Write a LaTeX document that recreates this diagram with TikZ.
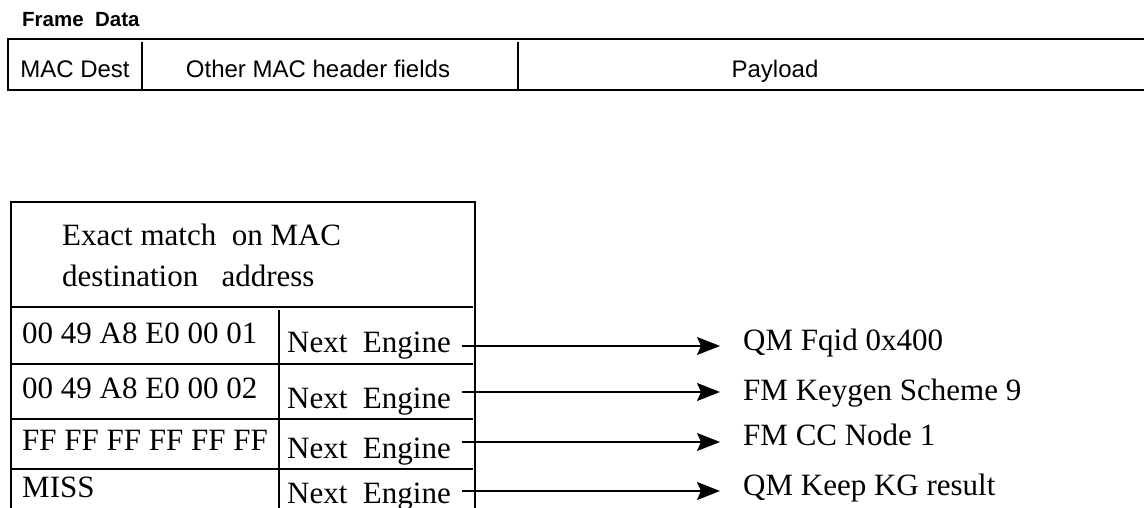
\documentclass[tikz,border=0pt]{standalone}
\usepackage{fontspec}
\setmainfont{Liberation Serif}
\newfontfamily\arialfont{Liberation Sans}
\usetikzlibrary{arrows.meta}

\begin{document}
\begin{tikzpicture}[x=1pt, y=-1pt, line cap=rect, line join=miter,
    box/.style={line width=2pt},
    sanslabel/.style={font=\arialfont\fontsize{24}{28}\selectfont, inner sep=0pt, anchor=base},
    serif/.style={font=\fontsize{31}{41}\selectfont, inner sep=0pt, anchor=base west},
    flow/.style={line width=1.6pt, line cap=butt, -{Stealth[length=23pt, width=18pt, inset=4pt]}, shorten >=23pt}]
  \useasboundingbox (0,0) rectangle (1144,508);

  % The frame as it arrives: one long strip of fields running off the right edge.
  \node[anchor=base west, inner sep=0pt, font=\arialfont\bfseries\fontsize{20.5}{24}\selectfont]
    (title) at (22,27) {Frame\ \ Data};
  \draw[box] (1144,39) -- (8,39) -- (8,90) -- (1144,90);
  \draw[box] (142,43) -- (142,90);
  \draw[box] (518,43) -- (518,90);
  \node[sanslabel] (dest) at (75,78) {MAC Dest};
  \node[sanslabel] (other) at (318,78) {Other MAC header fields};
  \node[sanslabel] (payload) at (775,78) {Payload};

  % The lookup table, cut off at the bottom of the page.
  \draw[box] (11,508) -- (11,202) -- (475,202) -- (475,508);
  \draw[box] (11,307) -- (472,307);
  \draw[box] (11,364) -- (472,364);
  \draw[box] (11,419) -- (472,419);
  \draw[box] (11,469) -- (472,469);
  \draw[box] (279,311) -- (279,508);
  \node[serif, anchor=north west, align=left] (match) at (62,224)
    {Exact match\ \ on MAC\\destination\ \ \ address};

  % Keys on the left, the engine column beside them.
  \node[serif] (key1) at (22,343) {00 49 A8 E0 00 01};
  \node[serif] (key2) at (22,398) {00 49 A8 E0 00 02};
  \node[serif] (key3) at (22,450) {FF FF FF FF FF FF};
  \node[serif] (key4) at (22,497) {MISS};
  \node[serif] (next1) at (287,352) {Next\ \ Engine};
  \node[serif] (next2) at (287,408) {Next\ \ Engine};
  \node[serif] (next3) at (287,458) {Next\ \ Engine};
  \node[serif] (next4) at (287,503) {Next\ \ Engine};

  % Where each hit is sent.
  \node[serif] (qm1) at (743,350) {QM Fqid 0x400};
  \node[serif] (fm2) at (743,400) {FM Keygen Scheme 9};
  \node[serif] (fm3) at (743,445) {FM CC Node 1};
  \node[serif] (qm4) at (743,495) {QM Keep KG result};

  \coordinate (out1) at (462,346);
  \coordinate (out2) at (462,392);
  \coordinate (out3) at (462,442);
  \coordinate (out4) at (462,491);
  \draw[flow] (out1) -- (out1 -| qm1.west);
  \draw[flow] (out2) -- (out2 -| fm2.west);
  \draw[flow] (out3) -- (out3 -| fm3.west);
  \draw[flow] (out4) -- (out4 -| qm4.west);
\end{tikzpicture}
\end{document}
